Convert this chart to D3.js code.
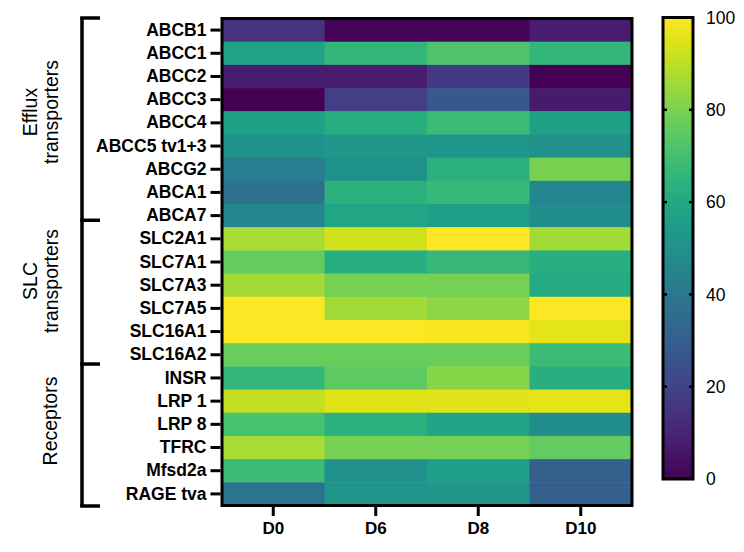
<!DOCTYPE html>
<html>
<head>
<meta charset="utf-8">
<script src="https://cdn.jsdelivr.net/npm/d3@7"></script>
<style>
  body { margin: 0; background: #fff; }
  text { font-family: "Liberation Sans", Arial, sans-serif; }
</style>
</head>
<body>
<svg id="chart" width="744" height="552"></svg>
<script>
const genes = ["ABCB1","ABCC1","ABCC2","ABCC3","ABCC4","ABCC5 tv1+3","ABCG2","ABCA1","ABCA7",
  "SLC2A1","SLC7A1","SLC7A3","SLC7A5","SLC16A1","SLC16A2",
  "INSR","LRP 1","LRP 8","TFRC","Mfsd2a","RAGE tva"];
const days = ["D0","D6","D8","D10"];
const D0  = [15,58,8,0,57,51,42,37,46,87,76,86,100,100,77,66,91,71,87,68,38];
const D6  = [1,66,8,18,63,53,51,64,59,93,63,79,86,100,77,75,95,64,79,50,52];
const D8  = [1,72,17,27,68,53,64,67,56,100,67,79,83,99,77,82,95,58,79,56,53];
const D10 = [8,66,0,7,57,50,80,46,49,86,63,61,100,96,68,63,96,49,76,30,30];
const colorTicks = [0,20,40,60,80,100];
const groups = [
  {lines:["Efflux","transporters"], from:0, to:8.7, center:112},
  {lines:["SLC","transporters"], from:8.7, to:14.9, center:281},
  {lines:["Receptors"], from:14.9, to:21, center:421}
];

const series = [D0, D6, D8, D10];
const cells = [];
genes.forEach((g, i) => days.forEach((d, j) => cells.push({gene:g, day:d, value:series[j][i]})));

const svg = d3.select("#chart");
const pL = 222, pR = 632, pT = 18.5, pB = 505.5;
const x = d3.scaleBand().domain(days).range([pL, pR]);
const y = d3.scaleBand().domain(genes).range([pT, pB]);
const color = d3.scaleSequential(d3.interpolateViridis).domain([0, 100]);

svg.append("g").selectAll("rect").data(cells).enter().append("rect")
  .attr("x", d => x(d.day)).attr("y", d => y(d.gene))
  .attr("width", x.bandwidth() + 0.5).attr("height", y.bandwidth() + 0.5)
  .attr("fill", d => color(d.value));

svg.append("rect").attr("x", pL).attr("y", pT).attr("width", pR - pL).attr("height", pB - pT)
  .attr("fill", "none").attr("stroke", "#000").attr("stroke-width", 3);

// Y axis
const yAxis = svg.append("g").attr("transform", `translate(${pL - 1.5},0)`)
  .call(d3.axisLeft(y).tickSize(10).tickPadding(4));
yAxis.select(".domain").remove();
yAxis.selectAll(".tick line").attr("stroke", "#000").attr("stroke-width", 3);
yAxis.selectAll(".tick text").attr("font-size", "17.5px").attr("font-weight", "bold").attr("fill", "#000");

// X axis
const xAxis = svg.append("g").attr("transform", `translate(0,${pB + 1.5})`)
  .call(d3.axisBottom(x).tickSize(9).tickPadding(6));
xAxis.select(".domain").remove();
xAxis.selectAll(".tick line").attr("stroke", "#000").attr("stroke-width", 3);
xAxis.selectAll(".tick text").attr("font-size", "17px").attr("font-weight", "bold").attr("fill", "#000");

// Group brackets
const rowPos = r => pT + r * y.step();
const bx = 82, capEnd = 100;
svg.append("line").attr("x1", bx).attr("x2", bx).attr("y1", pT - 1.5).attr("y2", pB + 1.5)
  .attr("stroke", "#000").attr("stroke-width", 3.5);
const caps = [0, 8.7, 14.9, 21];
svg.selectAll(".cap").data(caps).enter().append("line")
  .attr("x1", bx - 1.75).attr("x2", capEnd)
  .attr("y1", d => d === 0 ? pT - 0.5 : (d === 21 ? pB + 0.5 : rowPos(d)))
  .attr("y2", d => d === 0 ? pT - 0.5 : (d === 21 ? pB + 0.5 : rowPos(d)))
  .attr("stroke", "#000").attr("stroke-width", 3.5);

groups.forEach(g => {
  const t = svg.append("text").attr("transform", `translate(0,${g.center}) rotate(-90)`)
    .attr("text-anchor", "middle").attr("font-size", "19.5px").attr("fill", "#000");
  if (g.lines.length === 2) {
    t.append("tspan").attr("x", 0).attr("y", 37).text(g.lines[0]);
    t.append("tspan").attr("x", 0).attr("y", 58).text(g.lines[1]);
  } else {
    t.append("tspan").attr("x", 0).attr("y", 57).text(g.lines[0]);
  }
});

// Color bar
const cbX = 663, cbW = 30, cbTop = 17.5, cbBot = 479;
const defs = svg.append("defs");
const grad = defs.append("linearGradient").attr("id", "vgrad").attr("x1", 0).attr("x2", 0).attr("y1", 1).attr("y2", 0);
d3.range(0, 101, 5).forEach(v => grad.append("stop").attr("offset", v / 100).attr("stop-color", color(v)));
svg.append("rect").attr("x", cbX).attr("y", cbTop).attr("width", cbW).attr("height", cbBot - cbTop)
  .attr("fill", "url(#vgrad)").attr("stroke", "#000").attr("stroke-width", 3);
const cy = d3.scaleLinear().domain([0, 100]).range([cbBot, cbTop]);
const cbg = svg.append("g");
colorTicks.filter(v => v > 0 && v < 100).forEach(v => {
  cbg.append("line").attr("x1", cbX).attr("x2", cbX + 4).attr("y1", cy(v)).attr("y2", cy(v)).attr("stroke", "#000").attr("stroke-width", 2.5);
  cbg.append("line").attr("x1", cbX + cbW - 4).attr("x2", cbX + cbW).attr("y1", cy(v)).attr("y2", cy(v)).attr("stroke", "#000").attr("stroke-width", 2.5);
});
const cAxis = svg.append("g").attr("transform", `translate(${cbX + cbW},0)`)
  .call(d3.axisRight(cy).tickValues(colorTicks).tickSize(0).tickPadding(13));
cAxis.select(".domain").remove();
cAxis.selectAll(".tick text").attr("font-size", "17.5px").attr("fill", "#000");
</script>
</body>
</html>
